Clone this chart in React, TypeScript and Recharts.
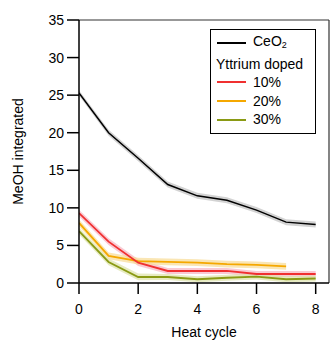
import React from 'react';
import {
  ComposedChart,
  Line,
  Area,
  XAxis,
  YAxis,
  ReferenceLine,
} from 'recharts';

// heat cycle index
const cycles = [0, 1, 2, 3, 4, 5, 6, 7, 8];

// MeOH integrated per cycle
const ceo2 = [25.3, 20.0, 16.6, 13.1, 11.6, 11.0, 9.7, 8.1, 7.8];
const y10 = [9.3, 5.5, 2.7, 1.6, 1.6, 1.6, 1.2, 1.2, 1.2];
const y20 = [8.0, 3.6, 2.9, 2.8, 2.7, 2.5, 2.4, 2.2, null];
const y30 = [6.9, 2.8, 0.8, 0.8, 0.5, 0.7, 0.85, 0.5, 0.6];

// uncertainty (half-width of shaded band)
const ceo2Err = [0.35, 0.4, 0.4, 0.4, 0.4, 0.4, 0.4, 0.4, 0.4];
const y10Err = [0.45, 0.45, 0.45, 0.4, 0.4, 0.4, 0.4, 0.4, 0.4];
const y20Err = [0.45, 0.45, 0.45, 0.45, 0.45, 0.45, 0.45, 0.45, 0.45];
const y30Err = [0.45, 0.45, 0.45, 0.4, 0.4, 0.4, 0.4, 0.4, 0.4];

const xTicks = [0, 2, 4, 6, 8];
const yTicks = [0, 5, 10, 15, 20, 25, 30, 35];

const band = (v: number | null, e: number) => (v == null ? null : [v - e, v + e]);

const data = cycles.map((c, i) => ({
  cycle: c,
  ceo2: ceo2[i],
  y10: y10[i],
  y20: y20[i],
  y30: y30[i],
  ceo2Band: band(ceo2[i], ceo2Err[i]),
  y10Band: band(y10[i], y10Err[i]),
  y20Band: band(y20[i], y20Err[i]),
  y30Band: band(y30[i], y30Err[i]),
}));

const FONT = '"Liberation Sans", Arial, sans-serif';

const legendItems = [
  { label: 'CeO', sub: '2', color: '#000000', line: true },
  { label: 'Yttrium doped', color: '', line: false },
  { label: '10%', color: '#f03030', line: true },
  { label: '20%', color: '#f5a800', line: true },
  { label: '30%', color: '#8a9a14', line: true },
];

const LegendBox = () => (
  <div
    style={{
      position: 'absolute',
      left: 210,
      top: 29,
      border: '1.5px solid #000',
      background: '#fff',
      width: 104,
      padding: '2px 0 4px 0',
      fontFamily: FONT,
      fontSize: 14,
      lineHeight: '18.6px',
      color: '#000',
    }}
  >
    {legendItems.map((it) => (
      <div key={it.label} style={{ display: 'flex', alignItems: 'center', paddingLeft: it.line ? 6 : 5 }}>
        {it.line && (
          <div style={{ width: 29, height: 2, background: it.color, marginRight: 7 }} />
        )}
        <span>
          {it.label}
          {it.sub && <sub style={{ fontSize: 9, verticalAlign: -2 }}>{it.sub}</sub>}
        </span>
      </div>
    ))}
  </div>
);

const YLabel = ({ viewBox }: any) => {
  const cy = viewBox.y + viewBox.height / 2;
  return (
    <text
      x={18}
      y={cy}
      transform={`rotate(-90, 18, ${cy})`}
      textAnchor="middle"
      dominantBaseline="central"
      fontFamily={FONT}
      fontSize={14}
      fill="#000"
    >
      MeOH integrated
    </text>
  );
};

export default function App() {
  const tick = { fill: '#000', fontSize: 14, fontFamily: FONT };
  return (
    <div style={{ position: 'absolute', left: 0, top: 0, width: 330, height: 342, background: '#fff' }}>
      <ComposedChart
        width={330}
        height={342}
        data={data}
        margin={{ top: 20, right: 1, bottom: 0, left: 0 }}
      >
        <XAxis
          dataKey="cycle"
          type="number"
          domain={[0, 8.45]}
          ticks={xTicks}
          allowDataOverflow
          tick={tick}
          tickSize={11}
          tickMargin={10}
          height={59}
          stroke="#000"
          strokeWidth={1.5}
          label={{
            value: 'Heat cycle',
            position: 'insideBottom',
            offset: 5,
            fill: '#000',
            fontSize: 14,
            fontFamily: FONT,
          }}
        />
        <YAxis
          type="number"
          domain={[0, 35]}
          ticks={yTicks}
          tick={tick}
          tickSize={12}
          tickMargin={3}
          width={79}
          stroke="#000"
          strokeWidth={1.5}
          label={<YLabel />}
        />
        <ReferenceLine y={35} stroke="#333" strokeWidth={1.2} />
        <ReferenceLine x={8.45} stroke="#333" strokeWidth={1.2} />

        <Area dataKey="ceo2Band" stroke="none" fill="#c8c8c8" fillOpacity={0.8} isAnimationActive={false} />
        <Area dataKey="y10Band" stroke="none" fill="#f6b4c0" fillOpacity={0.7} isAnimationActive={false} />
        <Area dataKey="y20Band" stroke="none" fill="#f8dc94" fillOpacity={0.7} isAnimationActive={false} />
        <Area dataKey="y30Band" stroke="none" fill="#dde2a8" fillOpacity={0.7} isAnimationActive={false} />

        <Line dataKey="ceo2" stroke="#000" strokeWidth={1.5} dot={false} isAnimationActive={false} />
        <Line dataKey="y30" stroke="#8a9a14" strokeWidth={1.8} dot={false} isAnimationActive={false} />
        <Line dataKey="y20" stroke="#f5a800" strokeWidth={1.8} dot={false} isAnimationActive={false} />
        <Line dataKey="y10" stroke="#f03030" strokeWidth={1.8} dot={false} isAnimationActive={false} />
      </ComposedChart>
      <LegendBox />
    </div>
  );
}
